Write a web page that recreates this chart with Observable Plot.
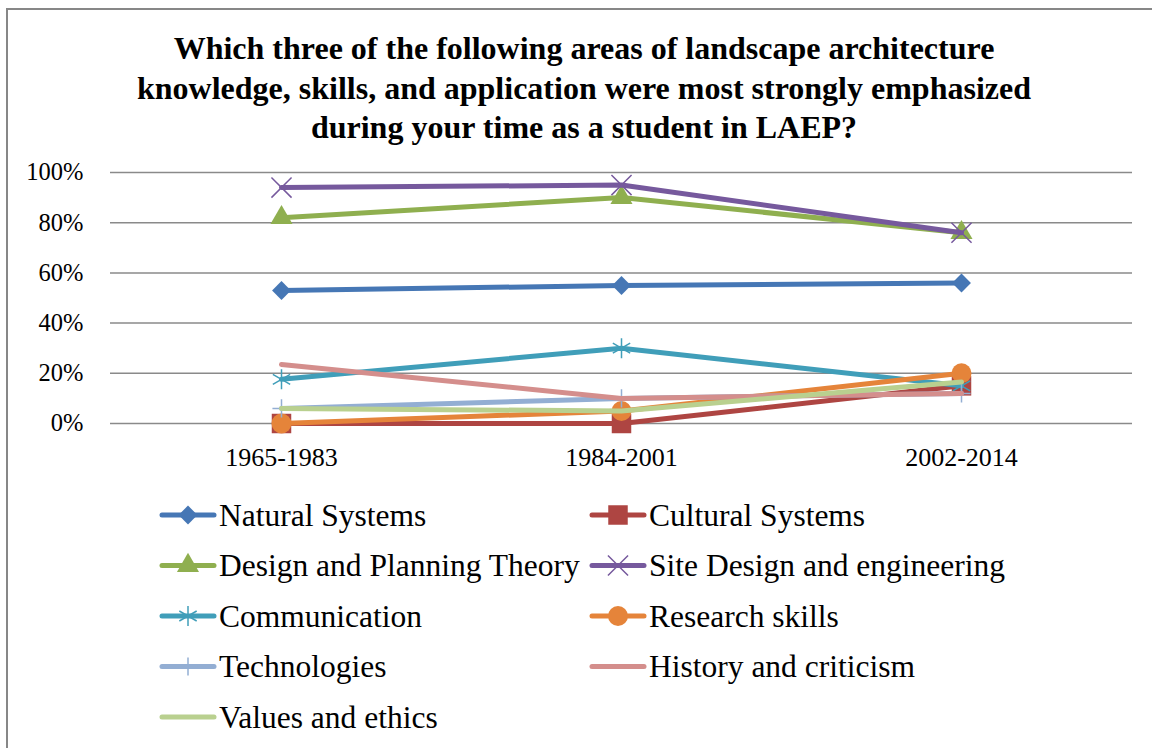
<!DOCTYPE html>
<html><head><meta charset="utf-8">
<script src="https://cdn.jsdelivr.net/npm/d3@7"></script>
<script src="https://cdn.jsdelivr.net/npm/@observablehq/plot@0.6"></script>
<style>
body{margin:0;background:#fff;width:1152px;height:748px;overflow:hidden;position:relative;}
#frame{position:absolute;left:6px;top:8px;width:1200px;height:800px;border:2px solid #878787;box-sizing:border-box;}
#chart{position:absolute;left:0;top:150px;}
#overlay{position:absolute;left:0;top:0;}
</style></head>
<body>
<div id="frame"></div>
<div id="chart"></div>
<svg id="overlay" width="1152" height="748"></svg>
<script>
const titleLines = ["Which three of the following areas of landscape architecture", "knowledge, skills, and application were most strongly emphasized", "during your time as a student in LAEP?"];
const periods = ["1965-1983", "1984-2001", "2002-2014"];
const seriesNames = ["Natural Systems", "Cultural Systems", "Design and Planning Theory", "Site Design and engineering", "Communication", "Research skills", "Technologies", "History and criticism", "Values and ethics"];
const naturalSystems = [0.53, 0.55, 0.56];
const culturalSystems = [0.00, 0.00, 0.15];
const designPlanningTheory = [0.82, 0.90, 0.76];
const siteDesignEngineering = [0.94, 0.95, 0.76];
const communication = [0.176, 0.30, 0.15];
const researchSkills = [0.00, 0.05, 0.20];
const technologies = [0.06, 0.10, 0.12];
const historyCriticism = [0.235, 0.10, 0.12];
const valuesEthics = [0.06, 0.05, 0.165];
const yTicks = [0, 0.2, 0.4, 0.6, 0.8, 1.0];

const seriesValues = [naturalSystems, culturalSystems, designPlanningTheory, siteDesignEngineering, communication, researchSkills, technologies, historyCriticism, valuesEthics];
const colors = ["#4677B5", "#AE4542", "#8FAF4F", "#76599D", "#409EB9", "#E5843A", "#93AED3", "#D48E8C", "#B9D08F"];
// marker style per series: [symbol, r, filled]
const markers = [
  [d3.symbolDiamond2, 8.5, true],
  [d3.symbolSquare, 11, true],
  [d3.symbolTriangle, 8.2, true],
  [d3.symbolTimes, 9.2, false],
  [d3.symbolAsterisk, 9.5, false],
  [d3.symbolCircle, 10, true],
  [d3.symbolPlus, 5.9, false],
  null,
  null
];
const FONT = "Liberation Serif, Times New Roman, serif";

const rows = [];
seriesNames.forEach((name, i) => {
  periods.forEach((p, j) => rows.push({series: name, period: p, value: seriesValues[i][j]}));
});

const marks = [
  Plot.ruleY(yTicks, {stroke: "#8a8a8a", strokeWidth: 1.5}),
  Plot.axisY({ticks: yTicks, tickFormat: d => Math.round(d * 100) + "%", tickSize: 0, tickPadding: 27, label: null, fontSize: 24.5}),
  Plot.axisX({tickSize: 0, tickPadding: 24, label: null, fontSize: 26})
];
seriesNames.forEach((name, i) => {
  const data = rows.filter(d => d.series === name);
  marks.push(Plot.line(data, {x: "period", y: "value", stroke: colors[i], strokeWidth: 5, strokeLinecap: "round", strokeLinejoin: "round"}));
  const m = markers[i];
  if (m) {
    marks.push(Plot.dot(data, {x: "period", y: "value", symbol: m[0], r: m[1],
      fill: m[2] ? colors[i] : "none", stroke: m[2] ? "none" : colors[i], strokeWidth: 1.5}));
  }
});

const chart = Plot.plot({
  width: 1152, height: 330,
  marginLeft: 110, marginRight: 20, marginTop: 22, marginBottom: 57,
  x: {type: "point", domain: periods, padding: 0.5},
  y: {domain: [0, 1]},
  style: {fontFamily: FONT, fontSize: "26px", color: "#000", background: "transparent", overflow: "visible"},
  marks
});
document.getElementById("chart").appendChild(chart);

const ov = d3.select("#overlay").attr("font-family", FONT);
// title
titleLines.forEach((t, k) => {
  ov.append("text").attr("x", 584).attr("y", 59 + k * 39.5).attr("text-anchor", "middle")
    .attr("font-size", 32).attr("font-weight", "bold").attr("fill", "#000").text(t);
});
// legend
seriesNames.forEach((name, i) => {
  const col = i % 2, row = Math.floor(i / 2);
  const x0 = col === 0 ? 160 : 590;
  const cy = 515 + row * 50.5;
  const g = ov.append("g").attr("transform", `translate(${x0},${cy})`);
  g.append("line").attr("x1", 2).attr("x2", 54).attr("y1", 0).attr("y2", 0)
    .attr("stroke", colors[i]).attr("stroke-width", 5).attr("stroke-linecap", "round");
  const m = markers[i];
  if (m) {
    g.append("path").attr("transform", "translate(28,0)")
      .attr("d", d3.symbol(m[0], Math.PI * m[1] * m[1])())
      .attr("fill", m[2] ? colors[i] : "none")
      .attr("stroke", m[2] ? "none" : colors[i]).attr("stroke-width", 1.5);
  }
  g.append("text").attr("x", 59).attr("y", 10.5).attr("font-size", 31.5).attr("fill", "#000").text(name);
});
</script>
</body></html>
